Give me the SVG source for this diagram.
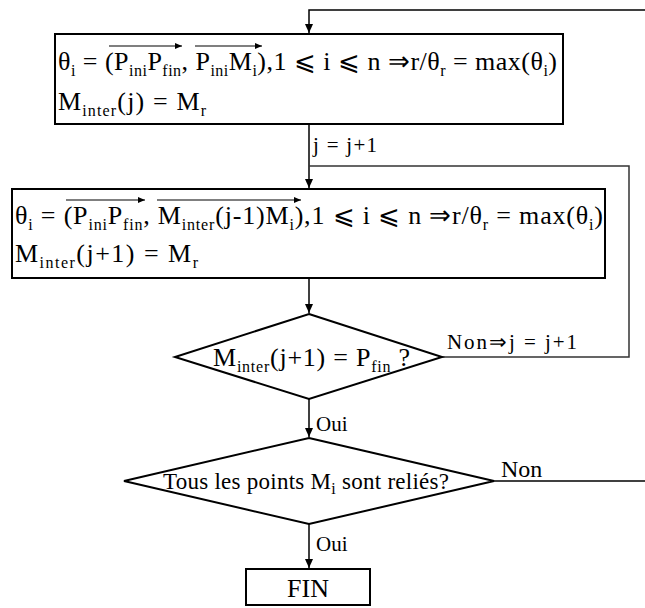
<svg xmlns="http://www.w3.org/2000/svg" width="645" height="608" viewBox="0 0 645 608">
<defs>
<style>
.t{font-family:"Liberation Serif","Times New Roman",serif;fill:#000}
.m{font-size:26px}
.s{font-size:16px}
.l{font-size:21px}
.box{fill:#fff;stroke:#000;stroke-width:2}
.conn{fill:none;stroke:#000;stroke-width:1.5}
.loop{fill:none;stroke:#333;stroke-width:1.5}
.vec{stroke:#000;stroke-width:1.2}
</style>
<marker id="ah" markerWidth="10" markerHeight="10" refX="9" refY="4" orient="auto" markerUnits="userSpaceOnUse"><path d="M0,0 L9,4 L0,8 Z" fill="#000"/></marker>
<marker id="va" markerWidth="8" markerHeight="6" refX="7" refY="3" orient="auto" markerUnits="userSpaceOnUse"><path d="M0,0 L7,3 L0,6 Z" fill="#000"/></marker>
</defs>
<g font-family="Liberation Serif, Times New Roman, serif">
<g id="connectors">
<path class="conn" d="M645,10 H309 V33" marker-end="url(#ah)"/>
<path class="conn" d="M309,124 V188" marker-end="url(#ah)"/>
<path class="loop" d="M442,357 H629 V166 H309"/>
<path class="conn" d="M309,278 V313" marker-end="url(#ah)"/>
<path class="conn" d="M309,399 V437" marker-end="url(#ah)"/>
<path class="conn" d="M309,524 V568" marker-end="url(#ah)"/>
<path class="conn" d="M494,481 H645"/>
<text class="t l" x="313" y="152" textLength="64">j = j+1</text>
<text class="t l" x="447" y="349" textLength="130">Non⇒j = j+1</text>
<text class="t l" x="316" y="431">Oui</text>
<text class="t l" x="316" y="551">Oui</text>
<text class="t" style="font-size:24px" x="501" y="477">Non</text>
</g>
<g id="box1">
<rect class="box" x="55" y="34" width="508" height="90"/>
<text class="t m" x="58" y="70" textLength="499">θ<tspan class="s" dy="6">i</tspan><tspan dy="-6"> = (P</tspan><tspan class="s" dy="6">ini</tspan><tspan dy="-6">P</tspan><tspan class="s" dy="6">fin</tspan><tspan dy="-6">, P</tspan><tspan class="s" dy="6">ini</tspan><tspan dy="-6">M</tspan><tspan class="s" dy="6">i</tspan><tspan dy="-6">),1 ⩽ i ⩽ n ⇒r/θ</tspan><tspan class="s" dy="6">r</tspan><tspan dy="-6"> = max(θ</tspan><tspan class="s" dy="6">i</tspan><tspan dy="-6">)</tspan></text>
<line class="vec" x1="109" y1="46" x2="182" y2="46" marker-end="url(#va)"/>
<line class="vec" x1="195" y1="46" x2="262" y2="46" marker-end="url(#va)"/>
<text class="t m" x="58" y="110" textLength="148">M<tspan class="s" dy="6">inter</tspan><tspan dy="-6">(j) = M</tspan><tspan class="s" dy="6">r</tspan></text>
</g>
<g id="box2">
<rect class="box" x="12" y="189" width="593" height="89"/>
<text class="t m" x="15" y="224" textLength="588">θ<tspan class="s" dy="6">i</tspan><tspan dy="-6"> = (P</tspan><tspan class="s" dy="6">ini</tspan><tspan dy="-6">P</tspan><tspan class="s" dy="6">fin</tspan><tspan dy="-6">, M</tspan><tspan class="s" dy="6">inter</tspan><tspan dy="-6">(j-1)M</tspan><tspan class="s" dy="6">i</tspan><tspan dy="-6">),1 ⩽ i ⩽ n ⇒r/θ</tspan><tspan class="s" dy="6">r</tspan><tspan dy="-6"> = max(θ</tspan><tspan class="s" dy="6">i</tspan><tspan dy="-6">)</tspan></text>
<line class="vec" x1="66" y1="200" x2="145" y2="200" marker-end="url(#va)"/>
<line class="vec" x1="157" y1="200" x2="301" y2="200" marker-end="url(#va)"/>
<text class="t m" x="15" y="262" textLength="183">M<tspan class="s" dy="6">inter</tspan><tspan dy="-6">(j+1) = M</tspan><tspan class="s" dy="6">r</tspan></text>
</g>
<g id="decision1">
<polygon class="box" points="309,314 442,357 309,399 175,357"/>
<text class="t m" x="213" y="366" textLength="197">M<tspan class="s" dy="6">inter</tspan><tspan dy="-6">(j+1) = P</tspan><tspan class="s" dy="6">fin</tspan><tspan dy="-6"> ?</tspan></text>
</g>
<g id="decision2">
<polygon class="box" points="309,438 494,481 309,524 124,481"/>
<text class="t" style="font-size:23px" x="163" y="489" textLength="286">Tous les points M<tspan class="s" dy="5">i</tspan><tspan dy="-5"> sont reliés?</tspan></text>
</g>
<g id="fin">
<rect class="box" x="246" y="569" width="124" height="36"/>
<text class="t m" x="308" y="597" text-anchor="middle">FIN</text>
</g>
</g>
</svg>
